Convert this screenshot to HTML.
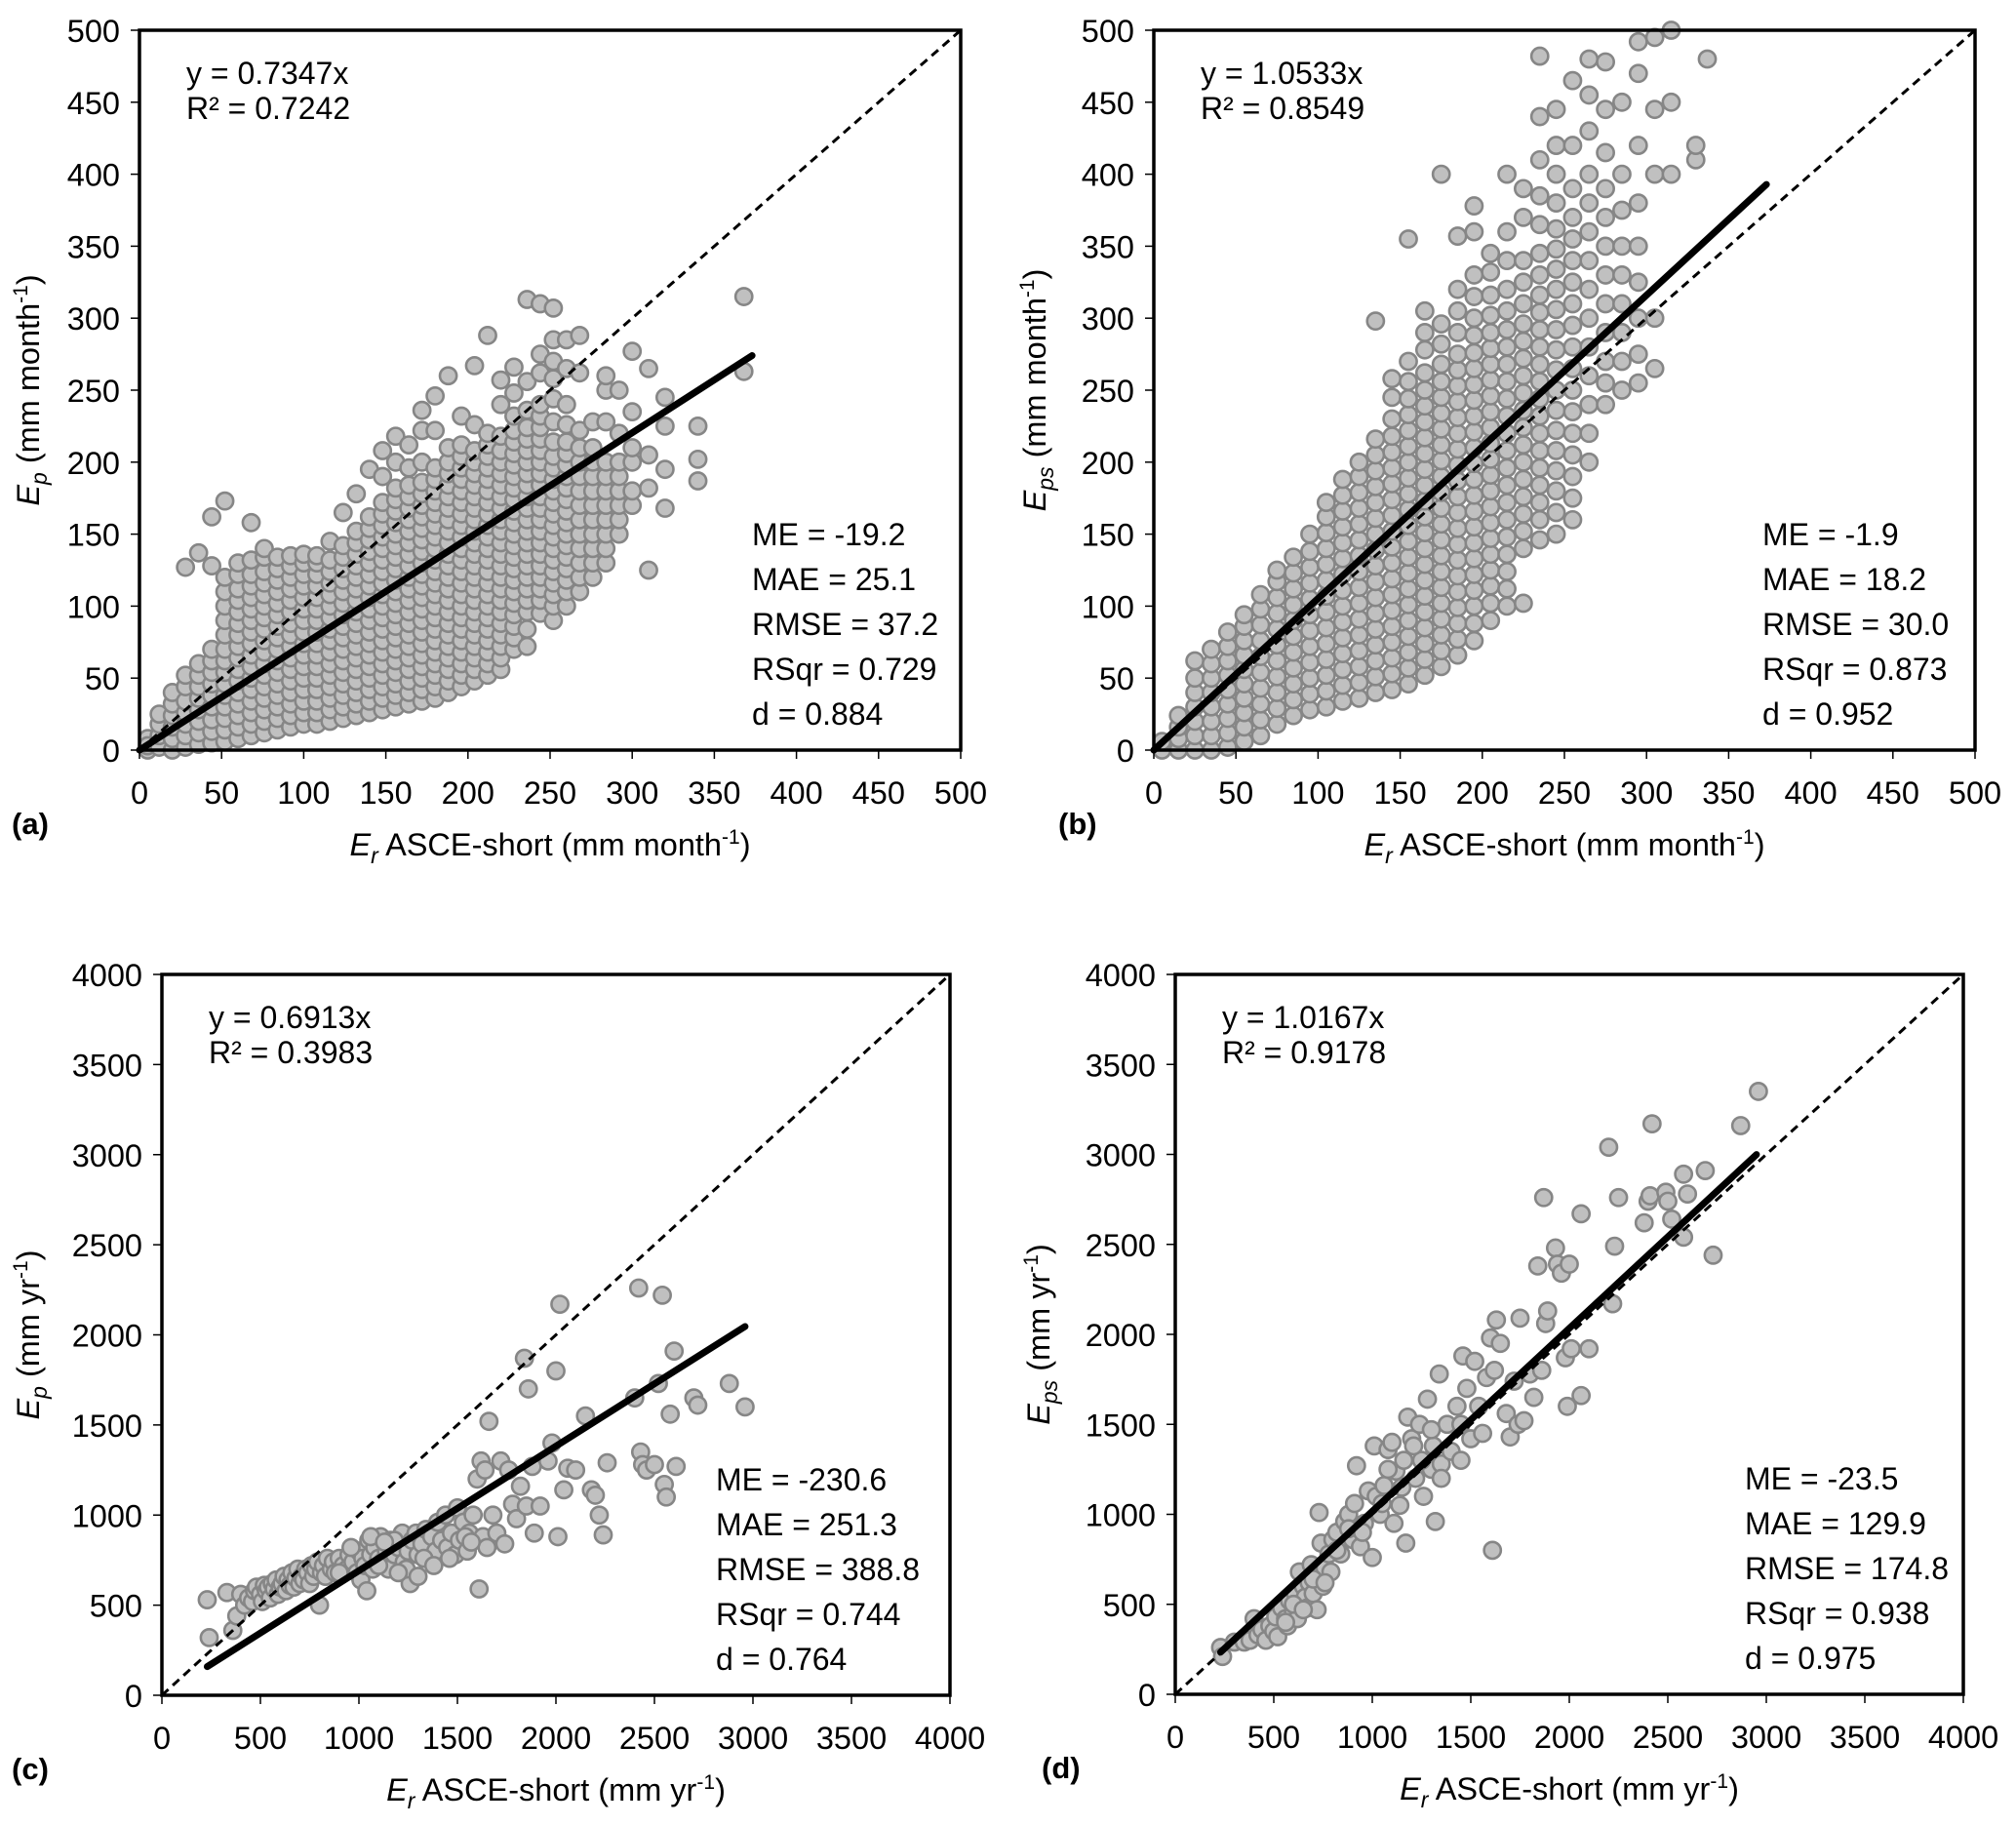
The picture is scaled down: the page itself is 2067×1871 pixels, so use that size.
<!DOCTYPE html>
<html><head><meta charset="utf-8"><style>
html,body{margin:0;padding:0;background:#fff}
svg{display:block;font-family:"Liberation Sans",Arial,sans-serif}
</style></head><body>
<svg id="fig" width="2067" height="1871" viewBox="0 0 2067 1871"></svg>
<script>
// ---- data ----
const ticksMonth = [0,50,100,150,200,250,300,350,400,450,500];
const ticksYear = [0,500,1000,1500,2000,2500,3000,3500,4000];
const slopes = [0.7347,1.0533,0.6913,1.0167];
const fitRangeA = [0,373], fitRangeB = [0,373], fitRangeC = [230,2960], fitRangeD = [230,2950];
const eqA = ["y = 0.7347x","R² = 0.7242"], eqB = ["y = 1.0533x","R² = 0.8549"];
const eqC = ["y = 0.6913x","R² = 0.3983"], eqD = ["y = 1.0167x","R² = 0.9178"];
const statsA = ["ME = -19.2","MAE = 25.1","RMSE = 37.2","RSqr = 0.729","d = 0.884"];
const statsB = ["ME = -1.9","MAE = 18.2","RMSE = 30.0","RSqr = 0.873","d = 0.952"];
const statsC = ["ME = -230.6","MAE = 251.3","RMSE = 388.8","RSqr = 0.744","d = 0.764"];
const statsD = ["ME = -23.5","MAE = 129.9","RMSE = 174.8","RSqr = 0.938","d = 0.975"];
// monthly points: "x:y1,y2,..."
const pointsA = [
"5:0,8,3","12:2,10,18,25","20:0,8,16,24,32,40","28:2,10,18,26,34,44,52,127","36:4,12,20,28,36,44,52,60,137",
"44:5,13,21,30,38,46,54,62,70,128,162","52:6,14,22,30,38,46,54,62,70,80,90,100,110,120,173",
"60:8,16,24,32,40,48,56,64,72,80,88,96,104,112,122,130","68:10,18,26,34,42,50,58,66,74,82,90,98,106,114,122,132,158",
"76:12,20,28,36,44,52,60,68,76,84,92,100,108,116,124,134,140","84:14,22,30,38,46,54,62,70,78,86,94,102,110,118,126,134",
"92:16,24,32,40,48,56,64,72,80,88,96,104,112,120,128,135","100:18,26,34,42,50,58,66,74,82,90,98,106,114,122,130,136",
"108:18,26,34,42,50,58,66,74,82,90,98,106,114,122,130,135","116:20,28,36,44,52,60,68,76,84,92,100,108,116,124,132,145",
"124:22,30,38,46,54,62,70,78,86,94,102,110,118,126,134,142,165","132:24,32,40,48,56,64,72,80,88,96,104,112,120,128,136,144,152,178",
"140:26,34,42,50,58,66,74,82,90,98,106,114,122,130,138,146,154,162,195",
"148:28,36,44,52,60,68,76,84,92,100,108,116,124,132,140,148,156,164,172,190,208",
"156:30,38,46,54,62,70,78,86,94,102,110,118,126,134,142,150,158,166,174,182,200,218",
"164:32,40,48,56,64,72,80,88,96,104,112,120,128,136,144,152,160,168,176,184,196,212",
"172:34,42,50,58,66,74,82,90,98,106,114,122,130,138,146,154,162,170,178,186,200,222,236",
"180:36,44,52,60,68,76,84,92,100,108,116,124,132,140,148,156,164,172,180,188,196,222,246",
"188:40,48,56,64,72,80,88,96,104,112,120,128,136,144,152,160,168,176,184,192,200,210,260",
"196:44,52,60,68,76,84,92,100,108,116,124,132,140,148,156,164,172,180,188,196,204,212,232",
"204:48,56,64,72,80,88,96,104,112,120,128,136,144,152,160,168,176,184,192,200,208,226,267",
"212:52,60,68,76,84,92,100,108,116,124,132,140,148,156,164,172,180,188,196,204,212,220,288",
"220:56,64,72,80,88,96,104,112,120,128,136,144,152,160,168,176,184,192,200,208,218,240,257",
"228:70,78,86,94,102,110,118,126,134,142,150,158,166,174,182,190,198,206,214,222,232,248,266",
"236:72,84,96,104,112,120,128,136,144,152,160,168,176,184,192,200,208,216,224,236,256,313",
"244:95,104,112,120,128,136,144,152,160,168,176,184,192,200,208,216,224,232,240,262,275,310",
"252:90,100,108,116,124,132,140,148,156,164,172,180,188,196,204,214,228,244,258,270,285,307",
"260:100,110,118,126,134,142,150,158,166,174,182,190,198,206,214,226,240,265,285",
"268:110,120,130,140,150,160,170,180,190,200,210,222,262,288","276:120,130,140,150,160,170,180,190,200,210,228",
"284:130,140,150,160,170,180,190,200,228,250,260","292:150,160,170,180,190,200,220,250","300:170,180,200,210,235,277",
"310:125,182,205,265","320:168,195,225,245","340:187,202,225","368:263,315"];
const pointsB = [
"5:0,6","15:0,8,16,24","25:0,10,20,30,40,50,62","35:0,10,20,30,40,50,60,70","45:2,12,22,32,42,52,62,72,82",
"55:6,16,26,36,46,56,66,76,86,94","65:10,21,32,43,54,65,76,87,98,108","75:18,29,40,51,62,73,84,95,106,117,125",
"85:24,35,46,57,68,79,90,101,112,123,134","95:28,39,50,61,72,83,94,105,116,127,138,150",
"105:30,41,52,63,74,85,96,107,118,129,140,151,162,172","115:34,45,56,67,78,89,100,111,122,133,144,155,166,177,188",
"125:36,47,58,69,80,91,102,113,124,135,146,157,168,179,190,200",
"135:40,51,62,73,84,95,106,117,128,139,150,161,172,183,194,205,216,298",
"145:42,53,64,75,86,97,108,119,130,141,152,163,174,185,196,207,218,230,245,258",
"155:46,57,68,79,90,101,112,123,134,145,156,167,178,189,200,211,222,233,244,256,270,355",
"165:52,63,74,85,96,107,118,129,140,151,162,173,184,195,206,217,228,239,250,262,278,290,305",
"175:58,69,80,91,102,113,124,135,146,157,168,179,190,201,212,223,234,245,256,268,282,296,400",
"185:66,77,88,99,110,121,132,143,154,165,176,187,198,209,220,231,242,253,264,275,290,305,320,357",
"195:76,88,100,111,122,133,144,155,166,177,188,199,210,221,232,243,254,265,276,288,300,315,330,360,378",
"205:90,102,114,125,136,147,158,169,180,191,202,213,224,235,246,257,268,279,290,302,316,332,345",
"215:100,112,124,136,148,160,172,184,196,208,220,232,244,256,268,280,292,305,320,340,360,400",
"225:102,140,152,164,176,188,200,212,224,236,248,260,272,284,296,310,325,340,370,390",
"235:146,160,172,184,196,208,220,232,244,256,268,280,292,304,316,330,345,365,385,410,440,482",
"245:150,165,180,194,208,222,236,250,264,278,292,306,320,334,348,362,380,400,420,445",
"255:160,175,190,205,220,235,250,265,280,295,310,325,340,355,370,390,420,465",
"265:200,220,240,260,280,300,320,340,360,380,400,430,455,480","275:240,255,270,290,310,330,350,370,390,415,445,478",
"285:250,270,290,310,330,350,375,400,450","295:255,275,300,325,350,380,420,470,492","305:265,300,400,445,495",
"315:400,450,500","330:410,420","337:480"];
// annual points: x,y pairs
const pointsC = [230,530,240,320,330,570,360,360,380,440,400,560,420,500,440,540,460,520,470,580,480,600,500,560,510,520,520,610,530,580,540,600,550,540,560,620,570,590,580,640,590,560,600,600,610,620,620,660,630,580,640,640,650,610,660,680,670,600,680,650,690,700,700,620,710,660,720,640,730,700,740,680,750,620,760,720,770,660,780,700,790,740,800,500,810,680,820,720,830,660,840,760,860,700,870,740,880,680,900,760,920,720,940,700,950,780,970,740,990,680,1000,800,1010,640,1020,760,1030,720,1040,580,1050,860,1060,780,1070,700,1080,820,1100,760,1110,880,1120,740,1140,800,1150,700,1160,860,1180,780,1200,820,1220,900,1230,740,1250,800,1260,620,1270,860,1290,900,1300,780,1320,840,1340,920,1350,760,1370,880,1390,800,1400,960,1420,860,1440,1000,1450,820,1470,900,1490,780,1500,1040,1510,860,1530,960,1550,800,1560,900,1580,1000,1600,1200,1610,590,1620,1300,1630,880,1640,1250,1650,820,1660,1520,1680,1000,1700,900,1720,1300,1740,840,1760,1250,1780,1060,1800,980,1820,1160,1840,1870,1850,1050,1860,1700,1880,1270,1890,900,1920,1050,1960,1300,1980,1400,2000,1800,2010,880,2020,2170,2040,1140,2060,1260,2100,1250,2150,1550,2180,1140,2200,1110,2220,1000,2240,890,2260,1290,2400,1650,2420,2260,2430,1350,2440,1280,2460,1250,2500,1280,2520,1730,2540,2220,2550,1170,2560,1100,2580,1560,2600,1910,2610,1270,2700,1650,2720,1610,2880,1730,2960,1600,1100,720,1180,860,1240,700,1330,760,1380,720,1460,760,1540,880,1570,850,1300,660,1200,680,900,680,960,820,1060,880,1130,850];
const pointsD = [230,260,240,210,300,290,350,290,380,300,400,420,420,330,440,360,460,300,480,380,500,350,510,430,520,320,540,480,560,420,570,380,580,520,600,460,610,560,620,420,630,680,640,500,650,600,660,540,670,480,680,620,690,720,700,560,710,660,720,470,730,1010,740,840,750,600,760,700,780,780,790,680,800,860,820,900,840,780,860,960,880,1000,900,860,910,1060,920,1270,940,820,960,950,980,1130,1000,760,1010,1380,1020,1100,1040,1000,1060,1160,1080,1360,1100,1400,1110,950,1120,1240,1140,1050,1160,1300,1170,840,1180,1540,1200,1420,1220,1200,1240,1500,1260,1100,1280,1640,1300,1250,1310,1380,1320,960,1340,1780,1350,1280,1380,1500,1400,1350,1430,1600,1450,1300,1460,1880,1480,1700,1500,1420,1520,1850,1540,1600,1560,1450,1580,1760,1600,1980,1610,800,1620,1800,1630,2080,1650,1950,1680,1560,1700,1430,1720,1740,1740,1500,1750,2090,1770,1520,1800,1780,1820,1650,1840,2380,1860,1800,1870,2760,1880,2060,1890,2130,1930,2480,1940,2390,1960,2340,1980,1870,1990,1600,2000,2390,2010,1920,2060,2670,2060,1660,2100,1920,2200,3040,2220,2170,2230,2490,2250,2760,2380,2620,2400,2740,2410,2770,2420,3170,2490,2790,2500,2740,2520,2640,2580,2540,2580,2890,2600,2780,2690,2910,2730,2440,2870,3160,2960,3350,560,400,600,500,650,470,700,640,760,620,820,800,880,920,950,900,1050,1060,1150,1150,1250,1300,1350,1200,1450,1500,1210,1380,1080,1250,1300,1470];

const NS = "http://www.w3.org/2000/svg";
const svg = document.getElementById('fig');
function mk(tag, attrs, parent){ const e=document.createElementNS(NS,tag); for(const k in attrs) e.setAttribute(k,attrs[k]); (parent||svg).appendChild(e); return e; }
function parseCols(arr){ const out=[]; arr.forEach(s=>{ const [x,ys]=s.split(':'); ys.split(',').forEach(y=>out.push([+x,+y])); }); return out; }
function parsePairs(arr){ const out=[]; for(let i=0;i<arr.length;i+=2) out.push([arr[i],arr[i+1]]); return out; }

function panel(o){
  const g = mk('g',{});
  
  
  const sx = v => o.x0 + (v/o.max)*(o.x1-o.x0);
  const sy = v => o.y0 - (v/o.max)*(o.y0-o.y1);
  const pg = mk('g',{},g);
  
  
  o.pts.forEach(p=>{
    const c = mk('circle',{cx:sx(p[0]),cy:sy(p[1]),r:8.6,fill:'#c0c0c0',stroke:'#868686','stroke-width':2.6},pg);
    
    
  });
  const d = mk('line',{x1:sx(0),y1:sy(0),x2:sx(o.max),y2:sy(o.max),stroke:'#000','stroke-width':3,'stroke-dasharray':'9,6'},g);
  
  
  const f = mk('line',{x1:sx(o.fit[0]),y1:sy(o.fit[0]*o.slope),x2:sx(o.fit[1]),y2:sy(o.fit[1]*o.slope),stroke:'#000','stroke-width':7,'stroke-linecap':'round'},g);
  
  
  const fr = mk('rect',{x:o.x0,y:o.y1,width:o.x1-o.x0,height:o.y0-o.y1,fill:'none',stroke:'#000','stroke-width':3.5},g);
  
  
  o.ticks.forEach(t=>{
    mk('line',{x1:sx(t),y1:o.y0,x2:sx(t),y2:o.y0+9,stroke:'#000','stroke-width':1.5},g);
    mk('line',{x1:o.x0-9,y1:sy(t),x2:o.x0,y2:sy(t),stroke:'#000','stroke-width':1.5},g);
    const xl = mk('text',{x:sx(t),y:o.y0+55,'font-size':32.5,'text-anchor':'middle'},g);
    xl.textContent = t;
    
    
    const yl = mk('text',{x:o.x0-20,y:sy(t)+12,'font-size':32.5,'text-anchor':'end'},g);
    yl.textContent = t;
    
    
  });
  o.eq.forEach((s,i)=>{
    const t = mk('text',{x:o.x0+48,y:o.y1+55+i*36,'font-size':32},g);
    t.textContent = s;
    
    
  });
  o.stats.forEach((s,i)=>{
    const t = mk('text',{x:o.x0+o.sxo,y:o.y0-210+i*46,'font-size':32},g);
    t.textContent = s;
    
    
  });
  const pl = mk('text',{x:o.lx,y:o.y0+86,'font-size':31,'font-weight':'bold'},g);
  pl.textContent = '('+o.id+')';
  
  
  const xt = mk('text',{x:(o.x0+o.x1)/2,y:o.y0+108,'font-size':32.5,'text-anchor':'middle'},g);
  xt.innerHTML = '<tspan font-style="italic">E</tspan><tspan font-style="italic" font-size="23" dy="8">r</tspan><tspan dy="-8"> ASCE-short (mm '+o.unit+'</tspan><tspan font-size="21" dy="-12">-1</tspan><tspan dy="12">)</tspan>';
  
  
  const cy = (o.y0+o.y1)/2;
  const yt = mk('text',{x:0,y:0,'font-size':32.5,'text-anchor':'middle',transform:'translate('+(o.tx)+','+cy+') rotate(-90)'},g);
  yt.innerHTML = '<tspan font-style="italic">E</tspan><tspan font-style="italic" font-size="23" dy="8">'+o.sub+'</tspan><tspan dy="-8"> (mm '+o.unit+'</tspan><tspan font-size="21" dy="-12">-1</tspan><tspan dy="12">)</tspan>';
  
  
}

panel({id:'a',x0:143,x1:985,y0:769,y1:31,max:500,ticks:ticksMonth,pts:parseCols(pointsA),slope:slopes[0],fit:fitRangeA,eq:eqA,stats:statsA,sxo:628,lx:12,tx:40,sub:'p',unit:'month'});
panel({id:'b',x0:1183,x1:2025,y0:769,y1:31,max:500,ticks:ticksMonth,pts:parseCols(pointsB),slope:slopes[1],fit:fitRangeB,eq:eqB,stats:statsB,sxo:624,lx:1085,tx:1072,sub:'ps',unit:'month'});
panel({id:'c',x0:166,x1:974,y0:1738,y1:999,max:4000,ticks:ticksYear,pts:parsePairs(pointsC),slope:slopes[2],fit:fitRangeC,eq:eqC,stats:statsC,sxo:568,lx:12,tx:40,sub:'p',unit:'yr'});
panel({id:'d',x0:1205,x1:2013,y0:1737,y1:999,max:4000,ticks:ticksYear,pts:parsePairs(pointsD),slope:slopes[3],fit:fitRangeD,eq:eqD,stats:statsD,sxo:584,lx:1068,tx:1076,sub:'ps',unit:'yr'});
</script>
</body></html>
